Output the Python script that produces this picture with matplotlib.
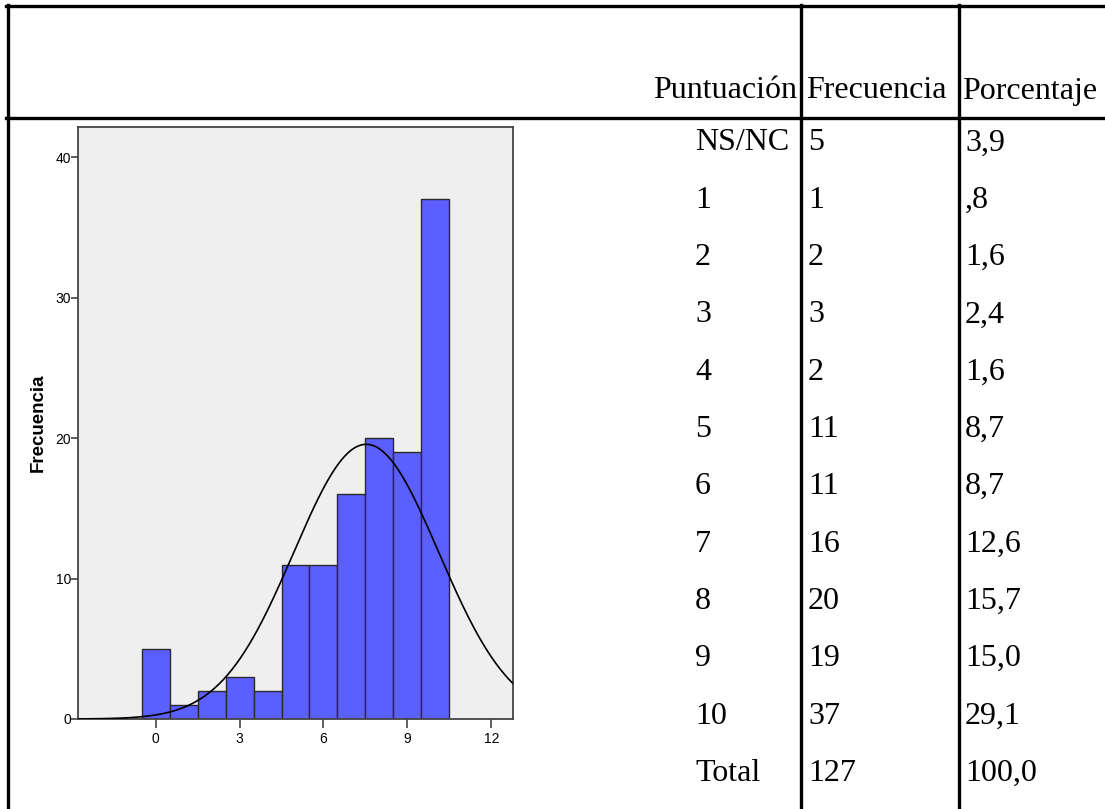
import numpy as np
import matplotlib.pyplot as plt
from matplotlib.lines import Line2D

# data
scores = [0, 1, 2, 3, 4, 5, 6, 7, 8, 9, 10]          # 0 = NS/NC
counts = [5, 1, 2, 3, 2, 11, 11, 16, 20, 19, 37]
row_labels = ['NS/NC', '1', '2', '3', '4', '5', '6', '7', '8', '9', '10', 'Total']
freq_text = ['5', '1', '2', '3', '2', '11', '11', '16', '20', '19', '37', '127']
pct_text = ['3,9', ',8', '1,6', '2,4', '1,6', '8,7', '8,7', '12,6', '15,7', '15,0', '29,1', '100,0']
headers = ['Puntuación', 'Frecuencia', 'Porcentaje']

W, H = 1105, 809
fig = plt.figure(figsize=(W / 100, H / 100), dpi=100)

def fx(px):
    return px / W

def fy(py):
    return 1 - py / H

# table borders
lw = 2.4
def hline(y, x0=6, x1=W):
    fig.add_artist(Line2D([fx(x0), fx(x1)], [fy(y), fy(y)], color='black', lw=lw))

def vline(x, y0=5, y1=H):
    fig.add_artist(Line2D([fx(x), fx(x)], [fy(y0), fy(y1)], color='black', lw=lw))

hline(6)
hline(118)
vline(7.5, 4.5)
vline(801)
vline(959)

# table text
serif = 'Liberation Serif'
fs = 23
fig.text(fx(797), fy(91), headers[0], ha='right', va='center', fontsize=fs, family=serif)
fig.text(fx(806), fy(91), headers[1], ha='left', va='center', fontsize=fs, family=serif)
fig.text(fx(962), fy(91), headers[2], ha='left', va='center', fontsize=fs, family=serif)

for i, lab in enumerate(row_labels):
    y = 143 + i * 57.3
    fig.text(fx(695), fy(y), lab, ha='left', va='center', fontsize=fs, family=serif)
    fig.text(fx(808), fy(y), freq_text[i], ha='left', va='center', fontsize=fs, family=serif)
    fig.text(fx(965), fy(y), pct_text[i], ha='left', va='center', fontsize=fs, family=serif)

# histogram
ax = fig.add_axes([fx(78), fy(719), fx(513 - 78), (719 - 127) / H])
ax.set_facecolor('#efefef')
ax.bar(scores, counts, width=1.0, color='#5c5fff', edgecolor='#2a2a2a', linewidth=1.0, zorder=2)

# normal curve from the same data
x = np.array(scores, dtype=float)
c = np.array(counts, dtype=float)
n = c.sum()
mu = (x * c).sum() / n
sd = np.sqrt(((x - mu) ** 2 * c).sum() / (n - 1))
xs = np.linspace(-2.77, 12.77, 400)
ys = n / (sd * np.sqrt(2 * np.pi)) * np.exp(-0.5 * ((xs - mu) / sd) ** 2)
ax.plot(xs, ys, color='black', lw=1.2, zorder=3)

ax.set_xlim(-2.77, 12.77)
ax.set_ylim(0, 42.15)
ax.set_xticks([0, 3, 6, 9, 12])
ax.set_yticks([0, 10, 20, 30, 40])
for s in ax.spines.values():
    s.set_color('#444444')
    s.set_linewidth(1.3)
ax.tick_params(axis='y', length=5, width=1.2, color='#444444', labelsize=10, pad=0)
ax.tick_params(axis='x', length=6.5, width=1.2, color='#444444', labelsize=10, pad=3)
for lab in ax.get_xticklabels() + ax.get_yticklabels():
    lab.set_family(['Liberation Sans Narrow', 'Liberation Sans'])
ax.set_ylabel('Frecuencia', fontsize=13.5, fontweight='bold', family='Liberation Sans')
ax.yaxis.set_label_coords(-0.071, 0.5)

fig.savefig('out.png', dpi=100)
